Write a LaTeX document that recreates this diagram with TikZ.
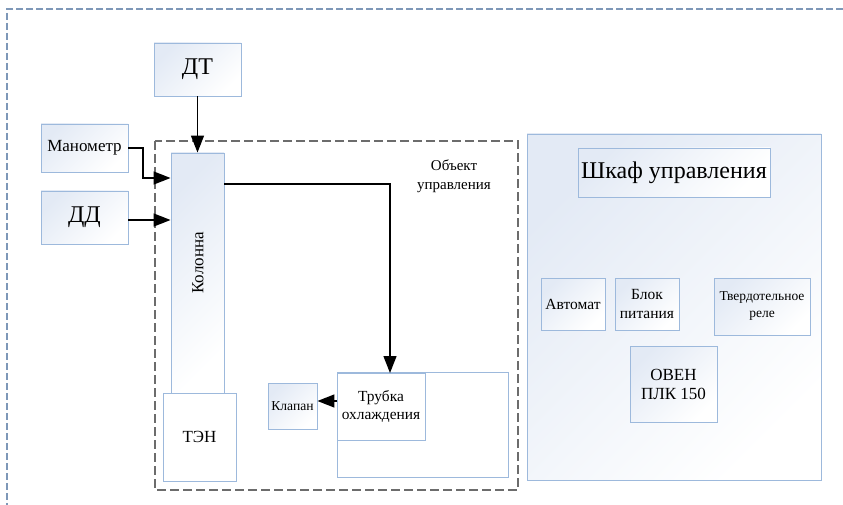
\documentclass[tikz,border=0pt]{standalone}
\usepackage{fontspec}
\setmainfont{Liberation Serif}
\usetikzlibrary{arrows.meta,calc}
\definecolor{boxblue}{HTML}{9DB9DC}
\definecolor{fillblue}{HTML}{E3EAF5}
\definecolor{outerdash}{HTML}{7E98B8}
\tikzset{
  box/.style={draw=boxblue, line width=0.9pt, top color=fillblue, bottom color=white, shading angle=45, inner sep=0pt, align=center, text=black},
  wbox/.style={draw=boxblue, line width=0.9pt, fill=white, inner sep=0pt, align=center},
  arr/.style={line width=1.4pt, -{Triangle[length=17pt,width=13pt]}},
  objframe/.style={draw=gray!85!black, line width=1.4pt, dash pattern=on 9pt off 4pt},
  outerframe/.style={draw=outerdash, line width=1.2pt, dash pattern=on 7pt off 3pt}
}
\begin{document}
\begin{tikzpicture}[x=1pt,y=-1pt]
\useasboundingbox (0,0) rectangle (843,505);
% outer dashed frame
\draw[outerframe] (843,9) -- (7,9) -- (7,505);
% object frame
\draw[objframe] (155,141) rectangle (518,490);
\node[font=\fontsize{15}{19}\selectfont, align=center] (objlbl) at (454,176) {Объект\\управления};
% control cabinet
\node[box, minimum width=294pt, minimum height=346pt] (cab) at (674,307) {};
\node[box, minimum width=192pt, minimum height=49pt, font=\fontsize{24}{28}\selectfont] (shkaf) at (674,172.5) {Шкаф управления};
\node[box, minimum width=64pt, minimum height=52pt, font=\fontsize{15.5}{18}\selectfont] (avt) at (573,304) {Автомат};
\node[box, minimum width=64pt, minimum height=52pt, font=\fontsize{15.5}{18}\selectfont] (bp) at (647,304) {Блок\\питания};
\node[box, minimum width=96pt, minimum height=57pt, font=\fontsize{13.5}{17}\selectfont] (tr) at (762,306.5) {Твердотельное\\реле};
\node[box, minimum width=87pt, minimum height=76pt, font=\fontsize{17}{19}\selectfont] (oven) at (673.5,384.5) {ОВЕН\\ПЛК 150};
% sensors
\node[box, minimum width=87pt, minimum height=53pt, font=\fontsize{24}{26}\selectfont] (dt) at (197.5,69.5) {ДТ};
\node[box, minimum width=87pt, minimum height=48pt, font=\fontsize{17}{19}\selectfont] (man) at (84.5,148) {Манометр};
\node[box, minimum width=87pt, minimum height=53pt, font=\fontsize{24}{26}\selectfont] (dd) at (84.5,217.5) {ДД};
% column
\node[box, minimum width=53pt, minimum height=240pt] (kol) at (197.5,273) {};
\node[rotate=90, font=\fontsize{17}{19}\selectfont] (kollbl) at (198,263) {Колонна};
\node[wbox, minimum width=73pt, minimum height=88pt, font=\fontsize{17}{19}\selectfont] (ten) at (199.5,437) {ТЭН};
% cooling tube
\node[wbox, minimum width=171pt, minimum height=105pt] (tube) at (422.5,425) {};
\node[wbox, minimum width=88pt, minimum height=67pt, font=\fontsize{15.4}{18}\selectfont] (trub) at (381,406.5) {Трубка\\охлаждения};
\node[box, minimum width=49pt, minimum height=46pt, font=\fontsize{13.6}{16}\selectfont] (kl) at (292.5,406) {Клапан};
% connectors
\coordinate (mk) at (143,178);
\coordinate (k1) at (224,184);
\coordinate (t1) at (390,373);
\coordinate (tr1) at (337,401);
\draw[arr] (dt.south) -- (kol.north);
\draw[arr] (man.east) -| (mk) -- (mk -| kol.west);
\draw[arr] ($(dd.east)+(0,2.5)$) -- ($(dd.east -| kol.west)+(0,2.5)$);
\draw[arr] (k1) -| (t1);
\draw[arr] (tr1) -- (tr1 -| kl.east);
\end{tikzpicture}
\end{document}
